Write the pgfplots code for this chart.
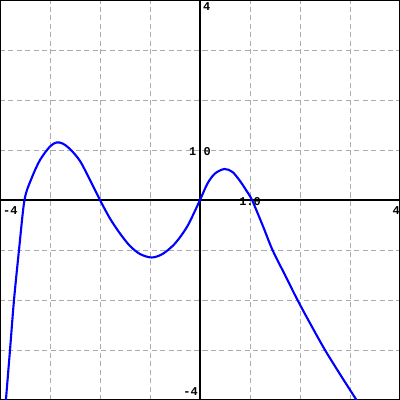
\documentclass[border=0pt]{standalone}
\usepackage{pgfplots}
\pgfplotsset{compat=1.18}
\usepackage{fontspec}
\setmainfont{Liberation Sans}
\newfontfamily\monob{Liberation Mono}
\begin{document}
\begin{tikzpicture}
\begin{axis}[
  width=10cm, height=10cm, scale only axis,
  xmin=-4, xmax=4, ymin=-4, ymax=4,
  xtick={-4,-3,...,4}, ytick={-4,-3,...,4},
  xticklabels={}, yticklabels={},
  major tick length=0pt,
  grid=major,
  major grid style={color=black!33, line width=0.7pt, dash pattern=on 3.6pt off 2.4pt},
  axis line style={black, line width=1.2pt},
  clip=true,
]
\draw[black, line width=1.2pt] (axis cs:-4,0) -- (axis cs:4,0);
\draw[black, line width=1.2pt] (axis cs:0,-4) -- (axis cs:0,4);
\addplot[blue, line width=1.5pt, smooth] coordinates {
(-3.89,-4.1) (-3.8,-3) (-3.72,-2) (-3.62,-1) (-3.51,0) (-3.37,0.43) (-3.2,0.8)
(-3.0,1.07) (-2.87,1.15) (-2.75,1.13) (-2.6,1.02) (-2.4,0.78) (-2.2,0.4) (-2,0)
(-1.8,-0.37) (-1.6,-0.67) (-1.4,-0.92) (-1.2,-1.08) (-0.97,-1.15) (-0.75,-1.08)
(-0.5,-0.87) (-0.25,-0.52) (0,0)
(0.15,0.33) (0.3,0.53) (0.49,0.62) (0.65,0.56) (0.8,0.38) (0.92,0.2) (1.04,0)
(1.25,-0.5) (1.45,-1) (1.7,-1.5) (1.95,-2) (2.22,-2.5) (2.5,-3) (2.81,-3.5) (3.13,-4) (3.18,-4.08)
};
\end{axis}
\begin{scope}[font=\monob\bfseries\fontsize{8.5}{9}\selectfont, inner sep=0pt]
\node[anchor=north west] at (0.07cm,4.85cm) {-4};
\node[anchor=north east] at (10cm,4.85cm) {4};
\node[anchor=north west] at (5.07cm,9.93cm) {4};
\node[anchor=south east] at (4.95cm,0.1cm) {-4};
\node[anchor=center] at (6.25cm,4.97cm) {1.0};
\node[anchor=center] at (5cm,6.22cm) {1.0};
\end{scope}
\pgfresetboundingbox
\path (0,0) rectangle (10cm,10cm);
\end{tikzpicture}
\end{document}
